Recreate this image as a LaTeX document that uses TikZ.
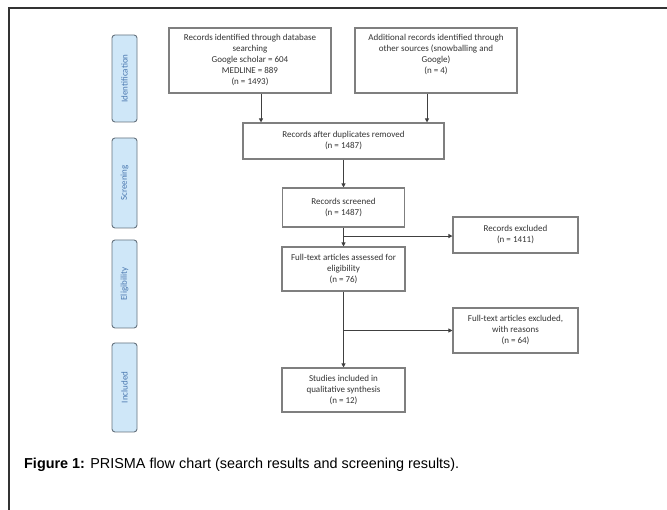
\documentclass[tikz,border=0pt]{standalone}
\usepackage{fontspec}
\setmainfont{Carlito}
\newfontfamily\capfont{Liberation Sans}
\usetikzlibrary{arrows.meta,calc}
\definecolor{boxline}{HTML}{7F7F7F}
\definecolor{boxtext}{HTML}{333333}
\definecolor{arrowcol}{HTML}{404040}
\definecolor{sidefill}{HTML}{CFE7F8}
\definecolor{sideline}{HTML}{66737F}
\definecolor{sidetext}{HTML}{4A78B0}
\definecolor{framecol}{HTML}{333333}
\tikzset{
  flowbox/.style={draw=boxline, line width=1.1pt, fill=white, align=center,
    text=boxtext, font=\fontsize{9}{11}\selectfont, inner sep=2pt},
  sidebox/.style={draw=sideline, line width=0.9pt, fill=sidefill, rounded corners=3pt,
    rotate=90, minimum height=25pt, text=sidetext, font=\fontsize{9}{10}\selectfont, inner sep=1pt},
  arr/.style={draw=arrowcol, line width=1pt, -{Triangle[length=4pt,width=4pt]}},
  plainline/.style={draw=arrowcol, line width=1pt}
}
\begin{document}
\begin{tikzpicture}[x=1pt,y=-1pt]
\useasboundingbox (0,0) rectangle (667,510);
\fill[white] (0,0) rectangle (667,510);
% frame
\draw[framecol, line width=1.6pt] (9,510) -- (9,8) -- (667,8);

% side labels
\node[sidebox, minimum width=87pt] (sid) at (124.5,78.5) {Identification};
\node[sidebox, minimum width=90pt] (sscr) at (124.5,183) {Screening};
\node[sidebox, minimum width=88pt] (selig) at (124.5,284) {Eligibility};
\node[sidebox, minimum width=89pt] (sincl) at (124.5,387.5) {Included};

% boxes
\node[flowbox, minimum width=162pt, minimum height=65pt] (A) at (250,60.5)
  {Records identified through database\\searching\\Google scholar = 604\\MEDLINE = 889\\(n = 1493)};
\node[flowbox, minimum width=162pt, minimum height=65pt] (B) at (436,60.5)
  {Additional records identified through\\other sources (snowballing and\\Google)\\(n = 4)\\[3pt]};
\node[flowbox, minimum width=201pt, minimum height=36pt] (C) at (343.5,141)
  {Records after duplicates removed\\(n = 1487)};
\node[flowbox, minimum width=122pt, minimum height=39pt] (D) at (343.5,207.5)
  {Records screened\\(n = 1487)};
\node[flowbox, minimum width=125pt, minimum height=36pt] (X1) at (515.5,235)
  {Records excluded\\(n = 1411)};
\node[flowbox, minimum width=123pt, minimum height=44pt] (E) at (343.5,269)
  {Full-text articles assessed for\\eligibility\\(n = 76)};
\node[flowbox, minimum width=125pt, minimum height=45pt] (X2) at (515.5,330.5)
  {Full-text articles excluded,\\with reasons\\(n = 64)};
\node[flowbox, minimum width=123pt, minimum height=44pt] (F) at (343.5,390)
  {Studies included in\\qualitative synthesis\\(n = 12)};

% connectors
\draw[arr] ([xshift=11pt]A.south) -- ([xshift=11pt]A.south |- C.north);
\draw[arr] ([xshift=-9pt]B.south) -- ([xshift=-9pt]B.south |- C.north);
\draw[arr] (C.south -| D.north) -- (D.north);
\draw[arr] (D.south) -- (E.north);
\coordinate (br1) at ($(D.south)!0.45!(E.north)$);
\draw[arr] (br1) -- (br1 -| X1.west);
\draw[arr] (E.south) -- (F.north);
\coordinate (br2) at (E.south |- X2.west);
\draw[arr] (br2) -- (X2.west);

% caption
\node[anchor=base west, inner sep=0pt, font=\capfont\fontsize{14.4}{16}\selectfont, text=black] (cap) at (24,468)
  {\textbf{Figure 1:} PRISMA flow chart (search results and screening results).};
\end{tikzpicture}
\end{document}
